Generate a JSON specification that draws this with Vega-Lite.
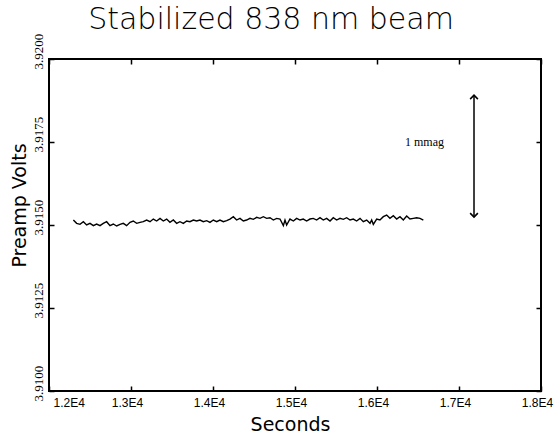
{
  "$schema": "https://vega.github.io/schema/vega-lite/v6.json",
  "width": 492,
  "height": 332,
  "autosize": {"type": "none"},
  "padding": {"left": 49, "top": 59, "right": 18, "bottom": 46},
  "background": "white",
  "title": {
    "text": "Stabilized 838 nm beam",
    "font": "DejaVu Sans",
    "fontSize": 30,
    "fontWeight": 200,
    "color": "black",
    "anchor": "middle",
    "frame": "group",
    "dx": -24,
    "dy": 2,
    "offset": 0
  },
  "config": {
    "view": {"stroke": "black", "strokeWidth": 2},
    "axis": {"domain": false, "grid": false, "tickColor": "black", "labelColor": "black", "titleColor": "black"}
  },
  "datasets": {
    "series": [
      {"t": 12297, "v": 3.91515}, {"t": 12337, "v": 3.91505}, {"t": 12378, "v": 3.91502}, {"t": 12419, "v": 3.9151},
      {"t": 12459, "v": 3.915}, {"t": 12500, "v": 3.91505}, {"t": 12541, "v": 3.91498}, {"t": 12581, "v": 3.91503},
      {"t": 12622, "v": 3.91498}, {"t": 12662, "v": 3.91505}, {"t": 12703, "v": 3.9151}, {"t": 12744, "v": 3.91498},
      {"t": 12784, "v": 3.91503}, {"t": 12825, "v": 3.91497}, {"t": 12866, "v": 3.91502}, {"t": 12906, "v": 3.91505},
      {"t": 12947, "v": 3.91498}, {"t": 12988, "v": 3.91508}, {"t": 13028, "v": 3.91512}, {"t": 13069, "v": 3.91505},
      {"t": 13110, "v": 3.91508}, {"t": 13150, "v": 3.9151}, {"t": 13191, "v": 3.91515}, {"t": 13232, "v": 3.9151},
      {"t": 13272, "v": 3.91518}, {"t": 13313, "v": 3.91512}, {"t": 13354, "v": 3.9152}, {"t": 13394, "v": 3.91512},
      {"t": 13435, "v": 3.91518}, {"t": 13475, "v": 3.91508}, {"t": 13516, "v": 3.91515}, {"t": 13557, "v": 3.91505},
      {"t": 13597, "v": 3.9151}, {"t": 13638, "v": 3.91505}, {"t": 13679, "v": 3.91512}, {"t": 13719, "v": 3.9151},
      {"t": 13760, "v": 3.91515}, {"t": 13801, "v": 3.91512}, {"t": 13841, "v": 3.91515}, {"t": 13882, "v": 3.9151},
      {"t": 13923, "v": 3.91513}, {"t": 13963, "v": 3.91508}, {"t": 14004, "v": 3.91515}, {"t": 14045, "v": 3.9151},
      {"t": 14085, "v": 3.91515}, {"t": 14126, "v": 3.9151}, {"t": 14167, "v": 3.91513}, {"t": 14207, "v": 3.91518},
      {"t": 14248, "v": 3.91525}, {"t": 14288, "v": 3.91515}, {"t": 14329, "v": 3.9152}, {"t": 14370, "v": 3.91512},
      {"t": 14410, "v": 3.91515}, {"t": 14451, "v": 3.9152}, {"t": 14492, "v": 3.91517}, {"t": 14532, "v": 3.91523},
      {"t": 14573, "v": 3.9152}, {"t": 14614, "v": 3.91525}, {"t": 14654, "v": 3.9152}, {"t": 14695, "v": 3.91522},
      {"t": 14736, "v": 3.91515}, {"t": 14776, "v": 3.9152}, {"t": 14817, "v": 3.91518}, {"t": 14858, "v": 3.91498},
      {"t": 14878, "v": 3.91515}, {"t": 14898, "v": 3.915}, {"t": 14939, "v": 3.91518}, {"t": 14980, "v": 3.91512},
      {"t": 15020, "v": 3.9152}, {"t": 15061, "v": 3.91515}, {"t": 15101, "v": 3.91518}, {"t": 15142, "v": 3.91512},
      {"t": 15183, "v": 3.91518}, {"t": 15223, "v": 3.9152}, {"t": 15264, "v": 3.91515}, {"t": 15305, "v": 3.91522},
      {"t": 15345, "v": 3.91515}, {"t": 15386, "v": 3.9152}, {"t": 15427, "v": 3.91512}, {"t": 15467, "v": 3.91522},
      {"t": 15508, "v": 3.91515}, {"t": 15549, "v": 3.9152}, {"t": 15589, "v": 3.91517}, {"t": 15630, "v": 3.91522},
      {"t": 15671, "v": 3.91515}, {"t": 15711, "v": 3.91518}, {"t": 15752, "v": 3.91512}, {"t": 15793, "v": 3.9152},
      {"t": 15833, "v": 3.9151}, {"t": 15874, "v": 3.91515}, {"t": 15915, "v": 3.91505}, {"t": 15935, "v": 3.91515},
      {"t": 15955, "v": 3.91502}, {"t": 15996, "v": 3.91518}, {"t": 16036, "v": 3.91515}, {"t": 16077, "v": 3.91525},
      {"t": 16118, "v": 3.9153}, {"t": 16158, "v": 3.9152}, {"t": 16199, "v": 3.91528}, {"t": 16240, "v": 3.91518},
      {"t": 16280, "v": 3.91525}, {"t": 16321, "v": 3.91515}, {"t": 16362, "v": 3.91527}, {"t": 16402, "v": 3.91518},
      {"t": 16443, "v": 3.9152}, {"t": 16484, "v": 3.91522}, {"t": 16524, "v": 3.9152}, {"t": 16565, "v": 3.91515}
    ],
    "arrow": [{"t": 17183, "v": 3.91891, "v2": 3.91524}],
    "heads": [{"t": 17183, "v": 3.91891, "dir": "up"}, {"t": 17183, "v": 3.91524, "dir": "down"}],
    "note": [{"t": 16341, "v": 3.9175, "label": "1 mmag"}]
  },
  "layer": [
    {
      "data": {"name": "series"},
      "mark": {"type": "line", "color": "black", "strokeWidth": 1.4},
      "encoding": {
        "x": {
          "field": "t", "type": "quantitative",
          "scale": {"domain": [12000, 18000], "nice": false, "zero": false},
          "axis": {
            "orient": "bottom", "values": [12000, 13000, 14000, 15000, 16000, 17000, 18000],
            "tickSize": -5, "tickWidth": 1.5, "labelPadding": 11,
            "labelExpr": "format(datum.value / 10000, '.1f') + 'E4'",
            "labelFont": "Liberation Sans", "labelFontSize": 12,
            "labelAlign": {"expr": "datum.value == 12000 ? 'left' : 'center'"},
            "labelOffset": {"expr": "datum.value == 12000 ? 4 : -4"},
            "labelOverlap": false, "labelFlush": false, "labelBound": false,
            "title": "Seconds", "titleFont": "DejaVu Sans", "titleFontSize": 19, "titleFontWeight": "normal",
            "titleX": 241, "titleY": 39, "titleBaseline": "alphabetic", "titleAlign": "center", "titleAnchor": null
          }
        },
        "y": {
          "field": "v", "type": "quantitative",
          "scale": {"domain": [3.91, 3.92], "nice": false, "zero": false},
          "axis": {
            "orient": "left", "values": [3.91, 3.9125, 3.915, 3.9175, 3.92],
            "tickSize": -5, "tickWidth": 1.5, "labelPadding": 9,
            "format": ".4f", "labelAngle": -90, "labelAlign": "center", "labelBaseline": "bottom",
            "labelOffset": -8,
            "labelFont": "Liberation Sans Narrow", "labelFontSize": 13,
            "labelOverlap": false, "labelFlush": false, "labelBound": false,
            "title": "Preamp Volts", "titleFont": "DejaVu Sans", "titleFontSize": 19, "titleFontWeight": "normal",
            "titleX": -30, "titleY": 146, "titleAngle": -90, "titleBaseline": "middle", "titleAlign": "center"
          }
        }
      }
    },
    {
      "data": {"name": "arrow"},
      "mark": {"type": "rule", "color": "black", "strokeWidth": 1.5},
      "encoding": {
        "x": {
          "field": "t", "type": "quantitative",
          "axis": {"orient": "top", "values": [12000, 13000, 14000, 15000, 16000, 17000, 18000], "labels": false, "tickSize": -5, "tickWidth": 1.5, "title": null}
        },
        "y": {
          "field": "v", "type": "quantitative",
          "axis": {"orient": "right", "values": [3.91, 3.9125, 3.915, 3.9175, 3.92], "labels": false, "tickSize": -5, "tickWidth": 1.5, "title": null}
        },
        "y2": {"field": "v2"}
      }
    },
    {
      "data": {"name": "heads"},
      "mark": {"type": "point", "filled": false, "stroke": "black", "strokeWidth": 1.6, "size": 60, "opacity": 1},
      "encoding": {
        "x": {"field": "t", "type": "quantitative", "axis": null},
        "y": {"field": "v", "type": "quantitative", "axis": null},
        "shape": {
          "field": "dir", "type": "nominal", "legend": null,
          "scale": {"domain": ["up", "down"], "range": ["M-1,1L0,0L1,1", "M-1,-1L0,0L1,-1"]}
        }
      }
    },
    {
      "data": {"name": "note"},
      "mark": {"type": "text", "font": "Liberation Serif", "fontSize": 12, "align": "left", "baseline": "middle", "color": "black"},
      "encoding": {
        "x": {"field": "t", "type": "quantitative", "axis": null},
        "y": {"field": "v", "type": "quantitative", "axis": null},
        "text": {"field": "label"}
      }
    }
  ],
  "resolve": {"axis": {"x": "independent", "y": "independent"}}
}
